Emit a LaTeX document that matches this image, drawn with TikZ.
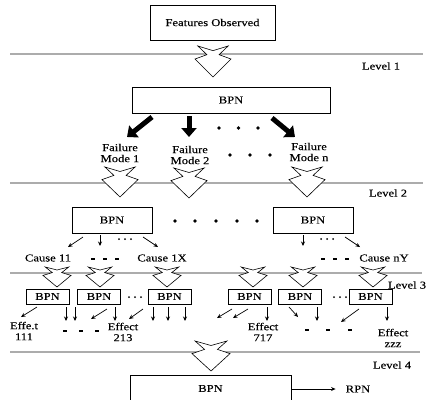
\documentclass[tikz,border=0pt]{standalone}
\usepackage{fontspec}
\setmainfont{Liberation Serif}[FakeStretch=1.2,FakeBold=0.2]
\usetikzlibrary{arrows.meta}
\newcommand\harr[4]{% cx, top, w, h
\filldraw[fill=white, line width=0.6pt, line join=miter]
 ({#1-0.42*#3},#2) -- (#1,{#2+0.15*#4}) -- ({#1+0.42*#3},#2)
 -- ({#1+0.17*#3},{#2+0.28*#4}) -- ({#1+0.5*#3},{#2+0.42*#4})
 -- (#1,{#2+#4}) -- ({#1-0.5*#3},{#2+0.42*#4})
 -- ({#1-0.17*#3},{#2+0.28*#4}) -- cycle;}
\begin{document}
\begin{tikzpicture}[x=1pt,y=-1pt,
  font=\fontsize{10.5}{11.5}\selectfont,
  box/.style={draw, line width=0.7pt, inner sep=0pt},
  hline/.style={draw=gray!65, line width=1.3pt},
  sarr/.style={line width=0.7pt, -{Stealth[length=4.5pt,width=4pt]}},
  blk/.style={line width=5pt, -{Triangle[length=9pt,width=15pt]}},
  lbl/.style={inner sep=0pt, align=center, font=\fontsize{10.5}{11}\selectfont},
  dot/.style={circle, fill=black, inner sep=0pt, minimum size=3.8pt},
  sdot/.style={circle, fill=black, inner sep=0pt, minimum size=2pt},
  dsh/.style={fill=black, inner sep=0pt, minimum width=4pt, minimum height=1.4pt}]
\clip (0,0) rectangle (433,399);
\fill[white] (0,0) rectangle (433,399);
% horizontal lines
\draw[hline] (10,54) -- (423,54);
\draw[hline] (10,183) -- (423,183);
\draw[hline] (10,273) -- (422,273);
\draw[hline] (10,352) -- (420,352);
% top
\node[box, minimum width=125pt, minimum height=35pt] (fo) at (212.5,22.5) {Features Observed};
\harr{213}{46}{36}{31}
\node[lbl] (l1) at (381,66) {Level 1};
\node[box, minimum width=198pt, minimum height=26pt] (bpn1) at (231,100) {BPN};
% black arrows
\coordinate (fa1) at (127,137);
\coordinate (fa2) at (189,137);
\coordinate (fa3) at (295,137);
\draw[blk] (152,117) -- (fa1);
\draw[blk] (189,116) -- (fa2);
\draw[blk] (272,118) -- (fa3);
\node[dot] at (219,128) {};
\node[dot] at (238.5,128) {};
\node[dot] at (258,128) {};
\node[lbl] (fm1) at (120,153) {Failure\\Mode 1};
\node[lbl] (fm2) at (190,155) {Failure\\Mode 2};
\node[lbl] (fmn) at (309,152) {Failure\\Mode n};
\node[dot] at (230,155) {};
\node[dot] at (250,155) {};
\node[dot] at (270,155) {};
% level 2
\harr{120}{167}{36}{30}
\harr{189}{168}{36}{30}
\harr{307}{167}{36}{30}
\node[lbl] (l2) at (388,193) {Level 2};
\node[box, minimum width=80pt, minimum height=26pt] (bl) at (112,220) {BPN};
\node[box, minimum width=80pt, minimum height=26pt] (br) at (313,220) {BPN};
\foreach \x in {175,195,216,237,257} \node[dot] at (\x,221) {};
\draw[sarr] (83,237) -- (68,247);
\draw[sarr] (100,235) -- (100,246);
\foreach \x in {119,125,131} \node[sdot] at (\x,239) {};
\draw[sarr] (143,237) -- (158,247);
\draw[sarr] (303,235) -- (303,246);
\foreach \x in {321,327,333} \node[sdot] at (\x,239) {};
\draw[sarr] (345,237) -- (360,247);
\node[lbl] (c11) at (48,258) {Cause 11};
\foreach \x in {93,105,117} \node[dsh] at (\x,259) {};
\node[lbl] (c1x) at (162,258) {Cause 1X};
\foreach \x in {323,335,347} \node[dsh] at (\x,259) {};
\node[lbl] (cny) at (384,258) {Cause nY};
% level 3
\foreach \x in {57,100,167,253,303,373} {\harr{\x}{267}{28}{20}}
\node[lbl] (l3) at (407,285) {Level 3};
\foreach \n/\x in {s1/47.5,s2/99,s3/169.5,s4/249.5,s5/300,s6/370.5}
  \node[box, minimum width=43pt, minimum height=15pt] (\n) at (\x,296.5) {BPN};
\foreach \x in {129,135,141} \node[sdot] at (\x,297) {};
\foreach \x in {334,340,346} \node[sdot] at (\x,297) {};
% small arrows
\draw[sarr] (37,307) -- (21,317);
\draw[sarr] (66,307) -- (66,321);
\draw[sarr] (75,307) -- (75,321);
\draw[sarr] (107,309) -- (91,319);
\draw[sarr] (115,307) -- (115,321);
\draw[sarr] (143,309) -- (129,319);
\draw[sarr] (153,307) -- (153,321);
\draw[sarr] (168,307) -- (168,321);
\draw[sarr] (185,307) -- (185,321);
\draw[sarr] (232,309) -- (217,318);
\draw[sarr] (248,309) -- (233,318);
\draw[sarr] (267,307) -- (267,321);
\draw[sarr] (289,307) -- (298,317);
\draw[sarr] (317,307) -- (317,321);
\draw[sarr] (359,309) -- (341,322);
\draw[sarr] (387,307) -- (387,321);
\node[lbl] (e111) at (24,331) {Effe.t\\111};
\foreach \x in {65,81,97} \node[dsh] at (\x,331) {};
\node[lbl] (e213) at (123,332) {Effect\\213};
\node[lbl] (e717) at (263,332) {Effect\\717};
\foreach \x in {307,328,350} \node[dsh] at (\x,330) {};
\node[lbl] (ezzz) at (393,338) {Effect\\zzz};
% level 4
\harr{211}{341}{38}{30}
\node[lbl] (l4) at (392,365) {Level 4};
\node[box, minimum width=161pt, minimum height=35pt, anchor=north] (bot) at (210.5,375) {};
\node[lbl] at (210.5,388.5) {BPN};
\node[lbl] (rpn) at (358,389) {RPN};
\draw[sarr] (bot.east |- rpn) -- ([xshift=-10pt]rpn.west);
\end{tikzpicture}
\end{document}
